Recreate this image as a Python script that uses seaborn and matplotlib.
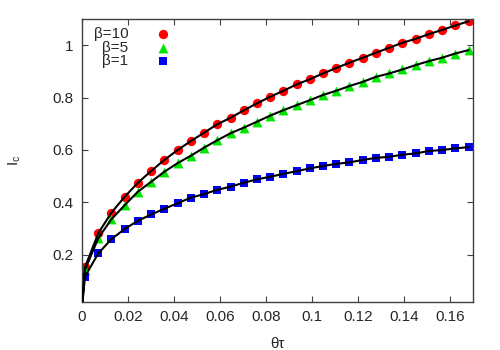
import matplotlib
matplotlib.use("Agg")
import matplotlib.pyplot as plt
import seaborn as sns
import pandas as pd

# ---- data ----
theta_tau = [0.0013, 0.0071, 0.0128, 0.0186, 0.0243, 0.0301, 0.0358, 0.0416,
             0.0473, 0.0531, 0.0588, 0.0646, 0.0703, 0.0761, 0.0818, 0.0876,
             0.0933, 0.0991, 0.1048, 0.1106, 0.1163, 0.1221, 0.1278, 0.1336,
             0.1393, 0.1451, 0.1508, 0.1566, 0.1623, 0.1681]
ic_beta10 = [0.153, 0.283, 0.361, 0.422, 0.475, 0.520, 0.562, 0.600, 0.634,
             0.666, 0.698, 0.723, 0.751, 0.778, 0.803, 0.826, 0.850, 0.870,
             0.892, 0.913, 0.933, 0.952, 0.971, 0.990, 1.009, 1.024, 1.042,
             1.058, 1.075, 1.091]
ic_beta5 = [0.143, 0.264, 0.336, 0.390, 0.441, 0.479, 0.517, 0.550, 0.578,
            0.609, 0.637, 0.664, 0.685, 0.708, 0.731, 0.752, 0.771, 0.790,
            0.810, 0.826, 0.844, 0.860, 0.879, 0.892, 0.907, 0.924, 0.939,
            0.952, 0.968, 0.981]
ic_beta1 = [0.117, 0.206, 0.260, 0.299, 0.330, 0.354, 0.376, 0.397, 0.418,
            0.432, 0.448, 0.460, 0.475, 0.488, 0.498, 0.509, 0.519, 0.530,
            0.539, 0.547, 0.553, 0.562, 0.570, 0.574, 0.582, 0.587, 0.596,
            0.600, 0.606, 0.611]
series_labels = ["β=10", "β=5", "β=1"]
series_colors = ["#ff0000", "#00e600", "#0000ee"]
series_markers = ["o", "^", "s"]
x_ticks = [0, 0.02, 0.04, 0.06, 0.08, 0.1, 0.12, 0.14, 0.16]
x_tick_labels = ["0", "0.02", "0.04", "0.06", "0.08", "0.1", "0.12", "0.14", "0.16"]
y_ticks = [0.2, 0.4, 0.6, 0.8, 1.0]
y_tick_labels = ["0.2", "0.4", "0.6", "0.8", "1"]
origin = (0.0, 0.0)

sns.set_style("ticks")
plt.rcParams["font.family"] = ["Liberation Sans", "DejaVu Sans"]
plt.rcParams["font.size"] = 11

fig = plt.figure(figsize=(5, 3.5), dpi=100)
ax = fig.add_axes([0.164, 0.137, 0.782, 0.809])

marker_sizes = {"o": 45, "^": 50, "s": 36}
for lab, col, mk, ys in zip(series_labels, series_colors, series_markers,
                            [ic_beta10, ic_beta5, ic_beta1]):
    df = pd.DataFrame({"x": theta_tau, "y": ys})
    sns.scatterplot(data=df, x="x", y="y", ax=ax, color=col, marker=mk,
                    s=marker_sizes[mk], linewidth=0, label=lab, zorder=2)
    fit = pd.DataFrame({"x": [origin[0]] + theta_tau, "y": [origin[1]] + ys})
    sns.lineplot(data=fit, x="x", y="y", ax=ax, color="black", linewidth=1.5,
                 zorder=3, sort=False, label="_nolegend_")

ax.set_xlim(0, 0.17)
ax.set_ylim(0.02, 1.1)
ax.set_xticks(x_ticks)
ax.set_xticklabels(x_tick_labels)
ax.set_yticks(y_ticks)
ax.set_yticklabels(y_tick_labels)
ax.tick_params(direction="in", top=True, right=True, length=4, width=0.8,
               color="#404040", labelsize=11, pad=6)
for sp in ax.spines.values():
    sp.set_visible(True)
    sp.set_color("#404040")
    sp.set_linewidth(1.0)

ax.set_xlabel("θτ", fontsize=11)
ax.set_ylabel(r"$\mathregular{I_c}$", fontsize=11)
ax.xaxis.set_label_coords(0.5, -0.125)
ax.xaxis.label.set_va("top")
ax.yaxis.set_label_coords(-0.15, 0.5)

leg = ax.legend(loc="upper left", bbox_to_anchor=(0.008, 1.0), frameon=False,
                markerfirst=False, handlelength=1.6, handletextpad=1.5,
                labelspacing=-0.05, borderaxespad=0.15, fontsize=11)

fig.savefig("out.png", dpi=100)
